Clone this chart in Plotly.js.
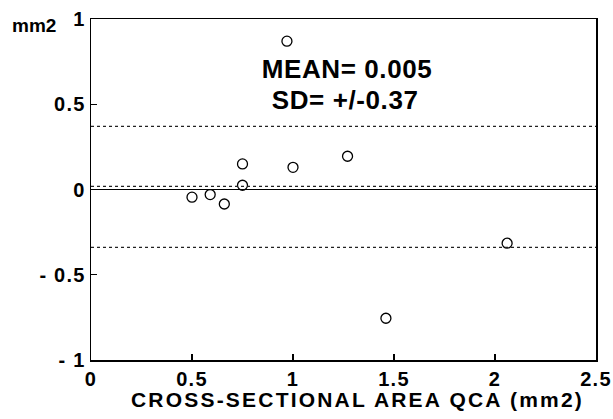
<!DOCTYPE html>
<html>
<head>
<meta charset="utf-8">
<script src="https://cdn.plot.ly/plotly-3.0.1.min.js"></script>
<style>
  html, body { margin: 0; padding: 0; background: #fff; }
  #chart { width: 613px; height: 419px; }
  g.xtick text, g.ytick text { letter-spacing: 1.2px; }
  g.annotation[data-index="0"] text, g.annotation[data-index="1"] text { letter-spacing: 0.6px; }
  g.annotation[data-index="3"] text { letter-spacing: 2.2px; }
</style>
</head>
<body>
<div id="chart"></div>
<script>
// Data
const xValues = [0.50, 0.59, 0.66, 0.75, 0.75, 0.97, 1.00, 1.27, 1.46, 2.06];
const yValues = [-0.045, -0.03, -0.085, 0.15, 0.025, 0.87, 0.13, 0.195, -0.755, -0.315];
const meanValue = 0.018;      // dotted line near zero (labelled MEAN= 0.005)
const upperLimit = 0.37;      // mean + SD
const lowerLimit = -0.34;     // mean - SD
const xTickVals = [0, 0.5, 1, 1.5, 2, 2.5];
const xTickText = ['0', '0.5', '1', '1.5', '2', '2.5'];
const yTickVals = [-1, -0.5, 0, 0.5, 1];
const yTickText = ['- 1', '- 0.5', '0', '0.5', '1'];
const meanLabel = 'MEAN= 0.005';
const sdLabel = 'SD= +/-0.37';
const yUnitLabel = 'mm2';
const xTitle = 'CROSS-SECTIONAL AREA QCA (mm2)';

const FONT = 'Liberation Sans, Arial, Helvetica, sans-serif';

const trace = {
  x: xValues,
  y: yValues,
  type: 'scatter',
  mode: 'markers',
  marker: { symbol: 'circle-open', size: 10, color: '#000', line: { width: 1.3, color: '#000' } },
  hoverinfo: 'x+y',
  showlegend: false
};

const dotted = (yv) => ({
  type: 'line', xref: 'paper', yref: 'y', x0: 0, x1: 1, y0: yv, y1: yv,
  line: { color: '#222', width: 1.2, dash: 'dot' }
});

const layout = {
  width: 613,
  height: 419,
  margin: { l: 91, r: 17, t: 19, b: 59 },
  paper_bgcolor: '#fff',
  plot_bgcolor: '#fff',
  font: { family: FONT, color: '#000', size: 18 },
  xaxis: {
    range: [0, 2.5],
    tickmode: 'array', tickvals: xTickVals, ticktext: xTickText,
    ticks: 'inside', ticklen: 6, tickwidth: 1.3, tickcolor: '#000',
    showline: true, linecolor: '#000', linewidth: 1.5, mirror: true,
    showgrid: false, zeroline: false,
    tickfont: { family: FONT, size: 20, weight: 'bold', color: '#000' },
    fixedrange: true
  },
  yaxis: {
    range: [-1, 1],
    tickmode: 'array', tickvals: yTickVals, ticktext: yTickText,
    ticks: 'inside', ticklen: 6, tickwidth: 1.3, tickcolor: '#000',
    showline: true, linecolor: '#000', linewidth: 1.5, mirror: true,
    showgrid: false, zeroline: true, zerolinecolor: '#000', zerolinewidth: 1.5,
    tickfont: { family: FONT, size: 20, weight: 'bold', color: '#000' },
    fixedrange: true
  },
  shapes: [dotted(meanValue), dotted(upperLimit), dotted(lowerLimit)],
  annotations: [
    { text: meanLabel, xref: 'x', yref: 'y', x: 1.267, y: 0.707, showarrow: false,
      xanchor: 'center', yanchor: 'middle', font: { family: FONT, size: 26, weight: 'bold' } },
    { text: sdLabel, xref: 'x', yref: 'y', x: 1.257, y: 0.525, showarrow: false,
      xanchor: 'center', yanchor: 'middle', font: { family: FONT, size: 26, weight: 'bold' } },
    { text: yUnitLabel, xref: 'paper', yref: 'paper', x: -0.113, y: 0.982, showarrow: false,
      xanchor: 'center', yanchor: 'middle', font: { family: FONT, size: 19, weight: 'bold' } },
    { text: xTitle, xref: 'paper', yref: 'paper', x: 0.528, y: -0.117, showarrow: false,
      xanchor: 'center', yanchor: 'middle', font: { family: FONT, size: 21, weight: 'bold' } }
  ]
};

Plotly.newPlot('chart', [trace], layout, { displayModeBar: false, staticPlot: true });
</script>
</body>
</html>
